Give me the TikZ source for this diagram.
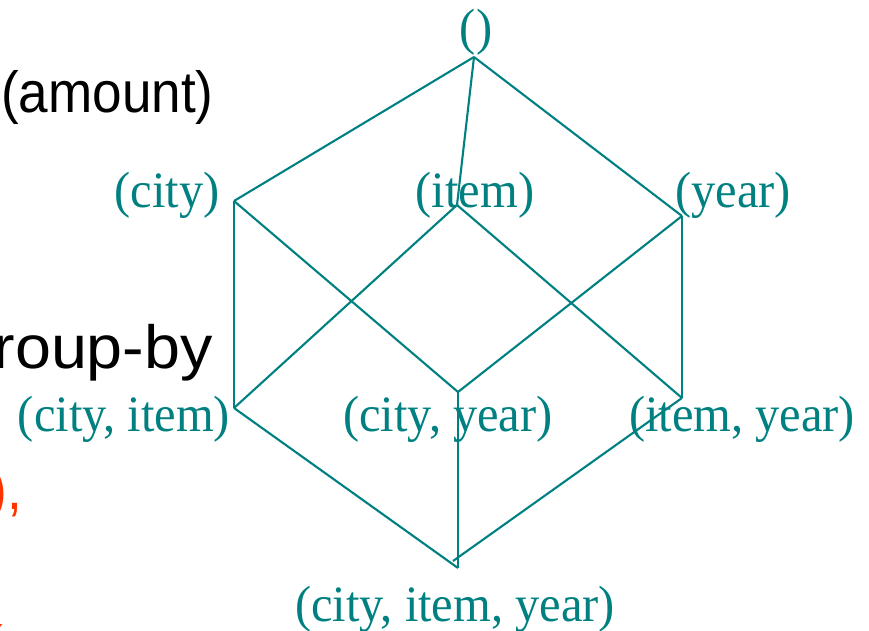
\documentclass[tikz,border=0pt]{standalone}
\usepackage{graphicx}
\usepackage{fontspec}
\setmainfont{Liberation Serif}
\newfontfamily\arialfont{Liberation Sans}
\definecolor{latticeteal}{RGB}{0,128,128}
\definecolor{slidered}{RGB}{255,51,0}
% horizontally condensed or widened text
\newcommand\narrowed[2]{\scalebox{#1}[1]{#2}}
\begin{document}
\begin{tikzpicture}[x=1pt,y=-1pt,
  edge/.style={draw=latticeteal, line width=2.1pt},
  dimlabel/.style={text=latticeteal, inner sep=0pt, anchor=base,
    font=\fontsize{51}{51}\selectfont},
  slidetext/.style={inner sep=0pt, font=\arialfont\fontsize{58}{58}\selectfont}]
\clip (0,0) rectangle (869,631);

% lattice vertices
\coordinate (v0)   at (474,57);
\coordinate (vc)   at (234,201);
\coordinate (vi)   at (457,205);
\coordinate (vy)   at (682,216);
\coordinate (vci)  at (234,408);
\coordinate (vcy)  at (458,392);
\coordinate (viy)  at (682,398);
\coordinate (vciy) at (458,568);
\coordinate (vciyr) at (453,561);

% cuboid labels
\node[dimlabel] (l0)   at (476,45)  {\narrowed{0.95}{()}};
\node[dimlabel] (lc)   at (167,207) {\narrowed{0.95}{(city)}};
\node[dimlabel] (li)   at (475,207) {\narrowed{0.95}{(item)}};
\node[dimlabel] (ly)   at (733,207) {\narrowed{0.95}{(year)}};
\node[dimlabel] (lci)  at (124,431) {\narrowed{0.95}{(city, item)}};
\node[dimlabel] (lcy)  at (448,431) {\narrowed{0.95}{(city, year)}};
\node[dimlabel] (liy)  at (742,431) {\narrowed{0.95}{(item, year)}};
\node[dimlabel] (lciy) at (455,621) {\narrowed{0.95}{(city, item, year)}};

% lattice edges
\draw[edge] (v0) -- (vc);
\draw[edge] (v0) -- (vi);
\draw[edge] (v0) -- (vy);
\draw[edge] (vc) -- (vci);
\draw[edge] (vc) -- (vcy);
\draw[edge] (vi) -- (vci);
\draw[edge] (vi) -- (viy);
\draw[edge] (vy) -- (vcy);
\draw[edge] (vy) -- (viy);
\draw[edge] (vci) -- (vciy);
\draw[edge] (vcy) -- (vciy);
\draw[edge] (viy) -- (vciyr);

% slide text at the left edge
\node[slidetext, anchor=base west] (amt) at (1,113) {\narrowed{0.915}{(amount)}};
\node[slidetext, anchor=base east, font=\arialfont\fontsize{61}{61}\selectfont]
  (grp) at (213,368) {\narrowed{1.06}{group-by}};
\node[slidetext, anchor=base east, text=slidered] (rp) at (22,509) {\narrowed{0.915}{),}};
\node[slidetext, anchor=base west, text=slidered] (lp) at (-15,666) {\narrowed{0.915}{(}};
\end{tikzpicture}
\end{document}
